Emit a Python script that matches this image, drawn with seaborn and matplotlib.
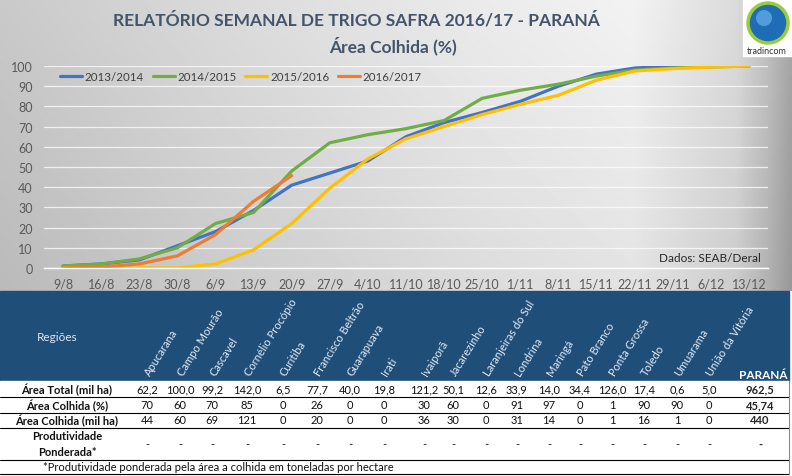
import numpy as np
import pandas as pd
import matplotlib
matplotlib.use("Agg")
import matplotlib.pyplot as plt
import seaborn as sns
from matplotlib.patches import Rectangle, Circle

# dados do grafico (% area colhida)
semanas = ["9/8", "16/8", "23/8", "30/8", "6/9", "13/9", "20/9", "27/9", "4/10", "11/10",
           "18/10", "25/10", "1/11", "8/11", "15/11", "22/11", "29/11", "6/12", "13/12"]
safra_1314 = [1, 2, 4, 11, 18, 28.5, 41, 47, 53, 65, 72, 77, 82.5, 90, 96, 99, 100, 100, 100]
safra_1415 = [1, 2, 4.5, 10, 22, 27.5, 48, 62, 66, 69, 73, 84, 88, 91, 95, 98, 99, 99.5, 100]
safra_1516 = [0, 0, 0, 0, 2, 9, 22, 39.5, 54, 64, 70, 76, 81, 85.5, 93, 97.5, 98.7, 99.5, 100]
safra_1617 = [0, 0.5, 2, 6, 16.5, 33, 45.74] + [np.nan] * 12
safras = ["2013/2014", "2014/2015", "2015/2016", "2016/2017"]
cores = ["#4472c4", "#70ad47", "#ffc000", "#ed7d31"]

# tabela por regiao
regioes = ["Apucarana", "Campo Mourão", "Cascavel", "Cornélio Procópio", "Curitiba",
           "Francisco Beltrão", "Guarapuava", "Irati", "Ivaiporã", "Jacarezinho",
           "Laranjeiras do Sul", "Londrina", "Maringá", "Pato Branco", "Ponta Grossa",
           "Toledo", "Umuarama", "União da Vitória"]
area_total = [62.2, 100.0, 99.2, 142.0, 6.5, 77.7, 40.0, 19.8, 121.2, 50.1, 12.6, 33.9,
              14.0, 34.4, 126.0, 17.4, 0.6, 5.0]
colhida_pct = [70, 60, 70, 85, 0, 26, 0, 0, 30, 60, 0, 91, 97, 0, 1, 90, 90, 0]
colhida_mil = [44, 60, 69, 121, 0, 20, 0, 0, 36, 30, 0, 31, 14, 0, 1, 16, 1, 0]
parana_total = 962.5
parana_pct = 45.74
parana_mil = 440

W, H = 792, 477
fig = plt.figure(figsize=(W / 100, H / 100), dpi=100)
sns.set_style("white")
plt.rcParams["font.family"] = ["Lato", "DejaVu Sans"]


def fbox(x0, y0, x1, y1):
    # pixels (top-left origin) -> figure fraction
    return [x0 / W, 1 - y1 / H, (x1 - x0) / W, (y1 - y0) / H]


# fundo em degrade
bg = fig.add_axes(fbox(0, 0, W, 292), zorder=0)
xs = np.linspace(0, 1, 400)
ys = np.linspace(0, 1, 150)
perfil = np.interp(xs, [0, 0.3, 0.6, 0.8, 0.93, 0.97, 1.0], [0.79, 0.86, 0.92, 0.95, 0.86, 0.76, 0.66])
grad = perfil[None, :] - 0.06 * ys[:, None]
bg.imshow(grad, cmap="gray", vmin=0, vmax=1, aspect="auto", extent=[0, 1, 0, 1], origin="upper")
bg.axis("off")

# grafico de linhas
ax = fig.add_axes(fbox(44, 67, 768, 269), zorder=1)
ax.patch.set_alpha(0)
df = pd.DataFrame({"x": np.arange(len(semanas)),
                   safras[0]: safra_1314, safras[1]: safra_1415,
                   safras[2]: safra_1516, safras[3]: safra_1617})
longo = df.melt(id_vars="x", var_name="safra", value_name="pct").dropna()
sns.lineplot(data=longo, x="x", y="pct", hue="safra", hue_order=safras,
             palette=cores, linewidth=2.3, ax=ax, sort=False)
ax.set_xlim(-0.5, len(semanas) - 0.5)
ax.set_ylim(0, 100)
ax.set_xlabel("")
ax.set_ylabel("")
ax.set_xticks(np.arange(len(semanas)))
ax.set_xticklabels(semanas)
ax.set_xticks(np.arange(-0.5, len(semanas), 1), minor=True)
ax.set_yticks(np.arange(0, 101, 10))
ax.tick_params(axis="both", which="major", length=0, labelsize=9, labelcolor="#595959")
ax.tick_params(axis="x", which="major", pad=7)
ax.tick_params(axis="y", which="major", pad=8)
ax.tick_params(axis="x", which="minor", length=4, color="white", width=1)
ax.yaxis.grid(True, color="white", lw=0.9, alpha=0.75)
ax.set_axisbelow(True)
for s in ["top", "right", "left"]:
    ax.spines[s].set_visible(False)
ax.spines["bottom"].set_color("white")
ax.spines["bottom"].set_linewidth(1)
h, l = ax.get_legend_handles_labels()
ax.legend(h, l, loc="center left", bbox_to_anchor=(0.022, 0.946), ncol=4, frameon=False,
          fontsize=8.3, handlelength=1.9, handletextpad=0.25, columnspacing=0.75,
          borderpad=0, borderaxespad=0, labelcolor="#404040")
ax.text(0.99, 0.05, "Dados: SEAB/Deral", transform=ax.transAxes, ha="right", va="center",
        fontsize=8.5, color="#262626")

# camada de sobreposicao em pixels
ov = fig.add_axes([0, 0, 1, 1], zorder=2)
ov.set_xlim(0, W)
ov.set_ylim(H, 0)
ov.axis("off")
ov.patch.set_alpha(0)

fig.text(356 / W, 1 - 20 / H, "RELATÓRIO SEMANAL DE TRIGO SAFRA 2016/17 - PARANÁ",
         ha="center", va="center", fontsize=12.5, fontweight="bold", color="#44546a")
fig.text(393 / W, 1 - 46 / H, "Área Colhida (%)", ha="center", va="center",
         fontsize=12.5, fontweight="bold", color="#44546a")

# logo
ov.add_patch(Rectangle((743, 0), 49, 57, color="white"))
ov.add_patch(Circle((768, 24), 20, facecolor="#1f6db5", edgecolor="#9ccc3c", lw=2.5))
ov.add_patch(Circle((764, 19), 8, facecolor="#5fa8e6", edgecolor="none", alpha=0.8))
ov.text(767, 51, "tradincom", ha="center", va="center", fontsize=6.5, color="#333333")

# tabela
ov.add_patch(Rectangle((0, 292), 789, 90, color="#1f4e79"))
ov.add_patch(Rectangle((0, 382), 789, 93, color="white"))
ov.text(57, 338, "Regiões", ha="center", va="center", fontsize=8.5, color="#dce6f2")
col_x = [147, 180, 212, 247, 283, 317, 350, 384, 424, 453, 486, 517, 549, 580, 612, 644, 677, 709]
par_x = 760
for cx, nome in zip(col_x, regioes):
    ov.text(cx + 3, 377, nome, rotation=58, rotation_mode="anchor", ha="left", va="baseline",
            fontsize=8, color="#e4ebf3")
ov.text(par_x + 3, 376, "PARANÁ", ha="center", va="center", fontsize=8.5,
        fontweight="bold", color="white")

rows_y = [390, 406, 421]
rotulos = ["Área Total (mil ha)", "Área Colhida (%)", "Área Colhida (mil ha)"]
for y, r in zip(rows_y, rotulos):
    ov.text(67, y, r, ha="center", va="center", fontsize=8, fontweight="bold", color="#111111")
ov.text(67, 437, "Produtividade", ha="center", va="center", fontsize=8, fontweight="bold", color="#111111")
ov.text(67, 453, "Ponderada*", ha="center", va="center", fontsize=8, fontweight="bold", color="#111111")

fmt1 = lambda v: f"{v:.1f}".replace(".", ",")
for cx, a, p, m in zip(col_x, area_total, colhida_pct, colhida_mil):
    ov.text(cx, rows_y[0], fmt1(a), ha="center", va="center", fontsize=8, color="#111111")
    ov.text(cx, rows_y[1], str(p), ha="center", va="center", fontsize=8, color="#111111")
    ov.text(cx, rows_y[2], str(m), ha="center", va="center", fontsize=8, color="#111111")
    ov.text(cx, 445, "-", ha="center", va="center", fontsize=8, color="#111111")
ov.text(par_x, rows_y[0], fmt1(parana_total), ha="center", va="center", fontsize=8, fontweight="bold")
ov.text(par_x, rows_y[1], f"{parana_pct:.2f}".replace(".", ","), ha="center", va="center",
        fontsize=8, fontweight="bold")
ov.text(par_x, rows_y[2], str(parana_mil), ha="center", va="center", fontsize=8, fontweight="bold")
ov.text(par_x, 445, "-", ha="center", va="center", fontsize=8, fontweight="bold")

for y in [398, 413.5, 428.5, 461, 475]:
    ov.plot([0, 789], [y, y], color="black", lw=0.8)
ov.plot([789, 789], [382, 475], color="#888888", lw=0.8)
ov.text(218, 468, "*Produtividade ponderada pela área a colhida em toneladas por hectare",
        ha="center", va="center", fontsize=8, color="#111111")

fig.savefig("out.png", dpi=100)
